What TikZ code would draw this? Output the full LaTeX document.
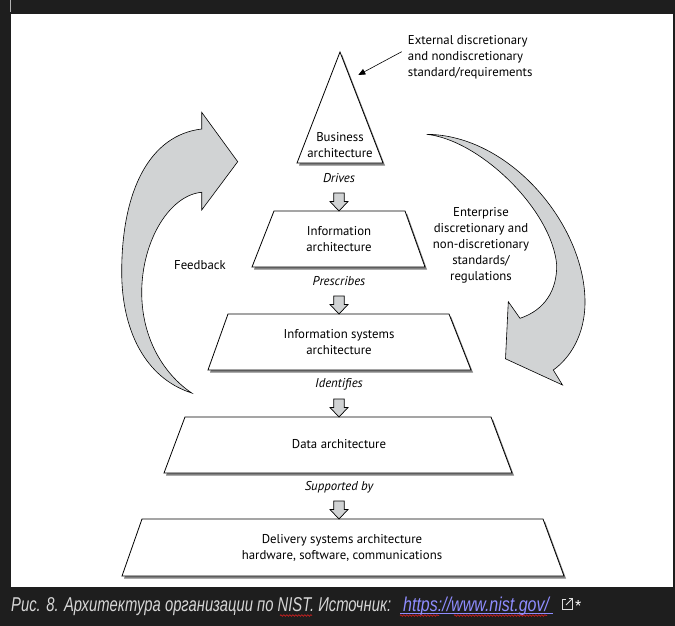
\documentclass[tikz,border=0pt]{standalone}
\usepackage{fontspec}
\setmainfont{PT Sans}
\newfontfamily\capfont{Liberation Sans}
\usetikzlibrary{arrows.meta,decorations.pathmorphing,calc}
\definecolor{bgdark}{HTML}{1E1E1E}
\definecolor{arrowgray}{HTML}{D1D3D4}
\definecolor{shadowgray}{HTML}{808080}
\definecolor{captext}{HTML}{D6D6D6}
\definecolor{linkcol}{HTML}{8E8CFF}
\definecolor{spellred}{HTML}{C42020}
\newcommand{\lvlshape}[1]{%
  \path[shade shape, shift={(2,2.5)}] #1;
  \path[level shape] #1;}
\begin{document}
\begin{tikzpicture}[x=1pt,y=-1pt,
  shade shape/.style={fill=shadowgray, draw=none},
  level shape/.style={fill=white, draw=black, line width=0.8pt, line join=miter},
  big arrow/.style={fill=arrowgray, draw=black, line width=0.6pt},
  small arrow/.style={fill=arrowgray, draw=black, line width=0.7pt},
  box text/.style={font=\fontsize{12.8}{16.5}\selectfont, align=center, inner sep=0pt},
  verb text/.style={font=\fontsize{12.8}{14}\selectfont\itshape, inner sep=0pt},
  side text/.style={font=\fontsize{12.8}{16}\selectfont, inner sep=0pt},
  ptr/.style={-{Triangle[length=7pt,width=6pt]}, line width=0.6pt},
  down block/.pic={\path[small arrow] (-5.3,-18) -- (5.3,-18) -- (5.3,-9.5) -- (9,-9.5) -- (0,0) -- (-9,-9.5) -- (-5.3,-9.5) -- cycle;}
]
\useasboundingbox (0,0) rectangle (675,626);
\fill[bgdark] (0,0) rectangle (675,626);
\fill[white] (11,14) rectangle (673,587);
\draw[gray!60, line width=0.8pt] (10,0) -- (10,12);

% big gray arrows
\path[big arrow] (201.7,129) -- (201.7,112.3) -- (237.7,161.7) -- (201.7,210) -- (201.7,192.3)
  .. controls (170,195) and (142,240) .. (141.7,292)
  .. controls (141.7,340) and (165,375) .. (191.7,393)
  .. controls (145,378) and (121.7,330) .. (121.7,272)
  .. controls (121.7,190) and (150,135) .. (201.7,129) -- cycle;
\path[big arrow] (426.7,134.3) .. controls (510,135) and (585,225) .. (585,302)
  .. controls (585,335) and (570,358) .. (553.3,370)
  -- (562.5,385) -- (505.5,358.8) -- (508.3,301.7) -- (520,318.3)
  .. controls (545,310) and (557,290) .. (556.7,265)
  .. controls (552,210) and (480,140) .. (426.7,134.3) -- cycle;

% pyramid levels
\lvlshape{(340,52) -- (383,163) -- (297,163) -- cycle}
\lvlshape{(274,211) -- (405,211) -- (425,267) -- (252,267) -- cycle}
\lvlshape{(228,314) -- (449,314) -- (471,370) -- (208,370) -- cycle}
\lvlshape{(185,417) -- (491,417) -- (512,473) -- (164,473) -- cycle}
\lvlshape{(142,519) -- (543,519) -- (564,576) -- (122,576) -- cycle}

\coordinate (top2) at (339,211);
\coordinate (top3) at (339,314);
\coordinate (top4) at (339,417);
\coordinate (top5) at (339,519);

\node[box text] (bus) at (340,145) {Business\\architecture};
\node[box text] (info) at (339,239) {Information\\architecture};
\node[box text] (iss) at (339,342) {Information systems\\architecture};
\node[box text] (data) at (339,444) {Data architecture};
\node[box text] (deliv) at (342,548) {Delivery systems architecture\\hardware, software, communications};

\node[verb text] (drives) at (339,178) {Drives};
\node[verb text] (prescr) at (339,281) {Prescribes};
\node[verb text] (ident) at (339,384) {Identifies};
\node[verb text] (supp) at (339,487) {Supported by};

\pic at (top2) {down block};
\pic at (top3) {down block};
\pic at (top4) {down block};
\pic at (top5) {down block};

\node[side text] (fb) at (200,265) {Feedback};
\node[side text, align=center] (ent) at (481,245) {Enterprise\\discretionary and\\non-discretionary\\standards/\\regulations};
\node[side text, align=left, anchor=west] (ext) at (407.7,57.3) {External discretionary\\and nondiscretionary\\standard/requirements};
\coordinate (apexpt) at (358.3,75);
\draw[ptr] ([shift={(-6,-5.6)}]ext.west) -- (apexpt);

% caption
\node[anchor=base west, inner sep=0pt, text=captext, font=\capfont\itshape\fontsize{20}{20}\selectfont] (cap) at (11,611)
  {\scalebox{0.74}[1]{Рис. 8. Архитектура организации по NIST. Источник:}};
\node[anchor=base west, inner sep=0pt, text=linkcol, font=\capfont\itshape\fontsize{20}{20}\selectfont] (link) at (403,611)
  {\scalebox{0.8}[1]{https://www.nist.gov/}};
\draw[linkcol, line width=1pt] ([xshift=-3pt,yshift=-2pt]link.base west) -- ([xshift=4pt,yshift=-2pt]link.base east);
\draw[spellred, line width=0.7pt, decorate, decoration={snake, amplitude=0.8pt, segment length=3pt}] (280,615.5) -- (312,615.5);
\draw[spellred, line width=0.7pt, decorate, decoration={snake, amplitude=0.8pt, segment length=3pt}] (400,615.5) -- (439,615.5);
\draw[spellred, line width=0.7pt, decorate, decoration={snake, amplitude=0.8pt, segment length=3pt}] (454,615.5) -- (547,615.5);
\coordinate (icon) at (562,609);
\draw[captext!80, line width=0.8pt] ([shift={(4,-10)}]icon) -- ([shift={(0,-10)}]icon) -- (icon) -- ([shift={(10,0)}]icon) -- ([shift={(10,-6)}]icon);
\draw[captext!80, line width=0.8pt] ([shift={(4,-4)}]icon) -- ([shift={(10.5,-10.5)}]icon);
\draw[captext!80, line width=0.8pt] ([shift={(6.5,-10.5)}]icon) -- ([shift={(10.5,-10.5)}]icon) -- ([shift={(10.5,-6.5)}]icon);
\node[anchor=base west, inner sep=0pt, text=white, font=\capfont\fontsize{16}{16}\selectfont] (star) at (575,611) {*};
\end{tikzpicture}
\end{document}
